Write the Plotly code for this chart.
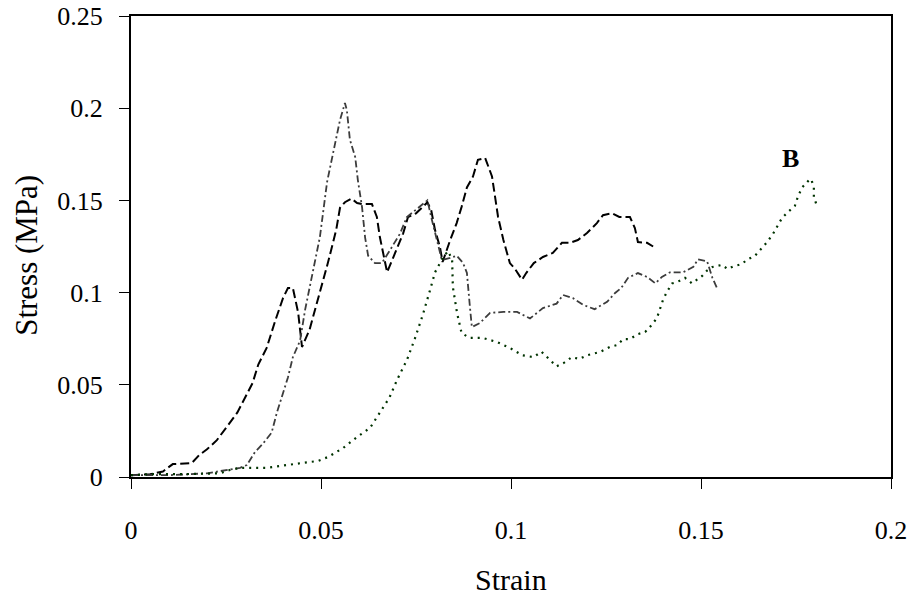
import plotly.graph_objects as go

# Series A (black dashed)
a_x = [0, 0.005, 0.0084, 0.011, 0.016, 0.018, 0.020, 0.0226, 0.0255, 0.028, 0.030, 0.032, 0.0335, 0.0357,
       0.038, 0.040, 0.0413, 0.0426, 0.044, 0.045, 0.047, 0.0497, 0.0518, 0.054, 0.055, 0.0563, 0.058,
       0.0595, 0.0608, 0.0634, 0.0647, 0.0655, 0.0674, 0.069, 0.0716, 0.0729, 0.075, 0.0768, 0.078,
       0.079, 0.080, 0.0813, 0.082, 0.084, 0.0857, 0.087, 0.0884, 0.090, 0.0913, 0.0932, 0.095, 0.0958,
       0.0966, 0.098, 0.0997, 0.101, 0.1029, 0.104, 0.106, 0.1084, 0.111, 0.1134, 0.1155, 0.1176, 0.120,
       0.1226, 0.1242, 0.1266, 0.1285, 0.1313, 0.1326, 0.1334, 0.1358, 0.1374]
a_y = [0.001, 0.0015, 0.003, 0.007, 0.0076, 0.012, 0.015, 0.020, 0.028, 0.035, 0.043, 0.051, 0.061, 0.070,
       0.085, 0.097, 0.1025, 0.1025, 0.089, 0.0705, 0.080, 0.0998, 0.116, 0.134, 0.146, 0.149, 0.151,
       0.1486, 0.148, 0.148, 0.141, 0.130, 0.111, 0.119, 0.132, 0.141, 0.143, 0.1465, 0.149,
       0.1447, 0.134, 0.1247, 0.1166, 0.1285, 0.1377, 0.1465, 0.157, 0.163, 0.172, 0.173, 0.163, 0.152,
       0.141, 0.1285, 0.116, 0.113, 0.107, 0.1106, 0.116, 0.1193, 0.1215, 0.127, 0.127, 0.1285, 0.1323,
       0.1377, 0.142, 0.143, 0.141, 0.141, 0.135, 0.1274, 0.127, 0.125]

# Series B (gray dash-dot)
b_x = [0, 0.01, 0.02, 0.026, 0.0287, 0.0305, 0.0326, 0.0347, 0.037, 0.0384, 0.040, 0.0413, 0.0426, 0.0445,
       0.0458, 0.0476, 0.0497, 0.0516, 0.0529, 0.054, 0.055, 0.0563, 0.0568, 0.0576, 0.059, 0.0597,
       0.0608, 0.0616, 0.0624, 0.0642, 0.066, 0.068, 0.0708, 0.0726, 0.076, 0.078, 0.079, 0.0805,
       0.0818, 0.084, 0.0857, 0.0874, 0.0884, 0.0892, 0.0897, 0.0918, 0.0945, 0.098, 0.1016, 0.105,
       0.1084, 0.112, 0.1137, 0.1163, 0.119, 0.122, 0.1253, 0.1274, 0.129, 0.1308, 0.1334, 0.1358,
       0.138, 0.1397, 0.1418, 0.1453, 0.148, 0.1492, 0.1516, 0.153, 0.1542]
b_y = [0.001, 0.001, 0.002, 0.004, 0.005, 0.0065, 0.0135, 0.018, 0.024, 0.035, 0.0455, 0.054, 0.065, 0.074,
       0.0905, 0.108, 0.130, 0.160, 0.173, 0.184, 0.1936, 0.2028, 0.199, 0.183, 0.1735, 0.161,
       0.1464, 0.130, 0.120, 0.116, 0.116, 0.1225, 0.132, 0.141, 0.1465, 0.150, 0.141, 0.1285,
       0.1177, 0.1188, 0.120, 0.116, 0.1106, 0.092, 0.0813, 0.0835, 0.089, 0.0895, 0.0895, 0.086,
       0.0916, 0.094, 0.0987, 0.097, 0.0933, 0.091, 0.095, 0.0998, 0.1025, 0.108, 0.1106, 0.1085,
       0.105, 0.1085, 0.111, 0.111, 0.114, 0.118, 0.117, 0.108, 0.1025]

# Series C (green dotted)
c_x = [0, 0.0058, 0.0147, 0.0234, 0.026, 0.0287, 0.0358, 0.0426, 0.045, 0.0492, 0.0518, 0.0558, 0.0595,
       0.0629, 0.0655, 0.068, 0.070, 0.0726, 0.0747, 0.0768, 0.0787, 0.080, 0.0821, 0.0834, 0.0845,
       0.0847, 0.0858, 0.087, 0.0892, 0.0926, 0.0963, 0.0997, 0.103, 0.106, 0.108, 0.110, 0.112, 0.114,
       0.116, 0.118, 0.120, 0.1234, 0.126, 0.128, 0.1295, 0.1313, 0.1334, 0.1353, 0.137, 0.1384, 0.1392,
       0.140, 0.141, 0.1424, 0.1437, 0.1458, 0.1476, 0.1484, 0.1503, 0.1516, 0.153, 0.1555, 0.157,
       0.1587, 0.1608, 0.162, 0.1642, 0.1655, 0.1674, 0.169, 0.1713, 0.1729, 0.1747, 0.1755, 0.1766,
       0.1784, 0.179, 0.1797, 0.1797, 0.1805]
c_y = [0.001, 0.0016, 0.0016, 0.002, 0.0038, 0.005, 0.005, 0.0072, 0.0076, 0.0087, 0.0108, 0.0157, 0.0217,
       0.0266, 0.035, 0.043, 0.0526, 0.0634, 0.075, 0.088, 0.1014, 0.111, 0.119, 0.1225, 0.118,
       0.103, 0.089, 0.078, 0.0754, 0.0754, 0.0732, 0.070, 0.066, 0.065, 0.068, 0.064, 0.060, 0.062,
       0.065, 0.064, 0.066, 0.0678, 0.0705, 0.0716, 0.0748, 0.0748, 0.0775, 0.0786, 0.0824, 0.0862, 0.0916,
       0.096, 0.1003, 0.105, 0.1057, 0.108, 0.105, 0.1063, 0.109, 0.112, 0.1139, 0.115, 0.1128,
       0.1144, 0.1155, 0.1177, 0.120, 0.123, 0.1274, 0.132, 0.1404, 0.1437, 0.147, 0.152, 0.157,
       0.161, 0.1616, 0.157, 0.152, 0.147]

x_ticks = [0, 0.05, 0.1, 0.15, 0.2]
x_tick_text = ["0", "0.05", "0.1", "0.15", "0.2"]
y_ticks = [0, 0.05, 0.1, 0.15, 0.2, 0.25]
y_tick_text = ["0", "0.05", "0.1", "0.15", "0.2", "0.25"]

FONT = "Liberation Serif, Times New Roman, serif"

fig = go.Figure()
fig.add_trace(go.Scatter(x=a_x, y=a_y, mode="lines",
                         line=dict(color="#000000", width=2, dash="9px,4px")))
fig.add_trace(go.Scatter(x=b_x, y=b_y, mode="lines",
                         line=dict(color="#3c3c3c", width=1.8, dash="7px,3px,2px,3px")))
fig.add_trace(go.Scatter(x=c_x, y=c_y, mode="lines",
                         line=dict(color="#003300", width=2.2, dash="2px,5px")))

axis_common = dict(showgrid=False, zeroline=False, showline=True, linecolor="#000000",
                   linewidth=2, mirror=True, ticks="outside", ticklen=10, tickwidth=1.2,
                   tickcolor="#000000", automargin=False, ticklabeloverflow="allow",
                   tickfont=dict(family=FONT, size=26, color="#000000"))

fig.update_layout(
    width=919, height=601,
    margin=dict(l=131, r=28, t=16, b=124, autoexpand=False),
    font=dict(family=FONT, size=26, color="#000000"),
    paper_bgcolor="white", plot_bgcolor="white",
    showlegend=False,
    xaxis=dict(range=[0, 0.2], tickvals=x_ticks, ticktext=x_tick_text,
               ticklabelstandoff=19, **axis_common),
    yaxis=dict(range=[0, 0.25], tickvals=y_ticks, ticktext=y_tick_text,
               ticklabelstandoff=11, **axis_common),
    annotations=[
        dict(text="Strain", xref="paper", yref="paper", x=0.5, y=-0.2234,
             xanchor="center", yanchor="middle", showarrow=False,
             font=dict(family=FONT, size=30, color="#000000")),
        dict(text="Stress (MPa)", xref="paper", yref="paper", x=-0.137, y=0.4816,
             xanchor="center", yanchor="middle", showarrow=False, textangle=-90,
             font=dict(family=FONT, size=31, color="#000000")),
        dict(text="<b>B</b>", xref="x", yref="y", x=0.1735, y=0.1725,
             xanchor="center", yanchor="middle", showarrow=False,
             font=dict(family=FONT, size=26, color="#000000")),
    ],
)

# remove the default 8px page margin so the figure sits at the window's top-left corner
fig.write_html("out.html", config={"displayModeBar": False},
               post_script="document.body.style.margin='0';")
